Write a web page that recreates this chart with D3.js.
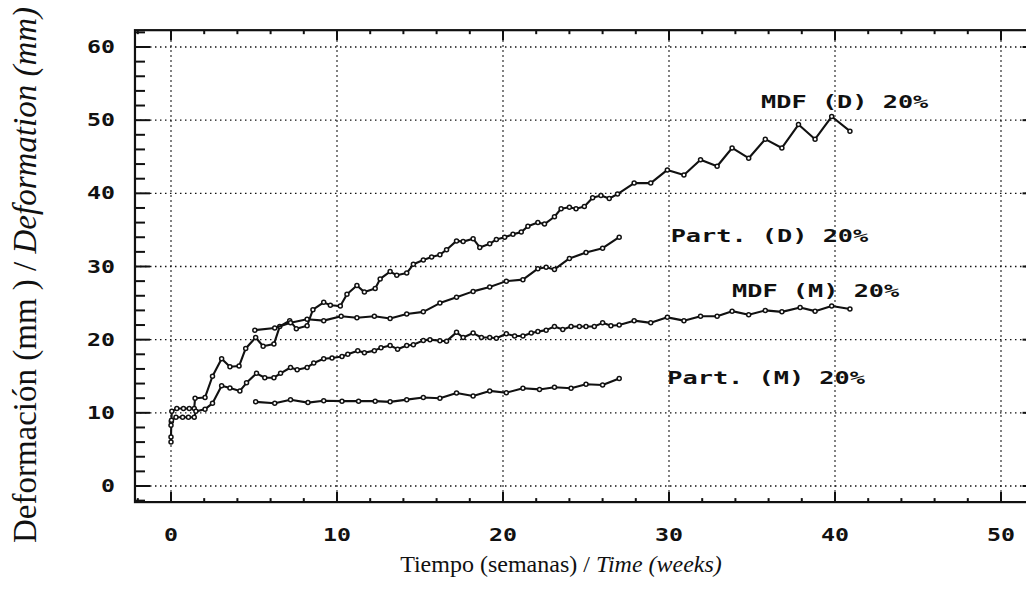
<!DOCTYPE html>
<html>
<head>
<meta charset="utf-8">
<script src="https://cdn.jsdelivr.net/npm/d3@7"></script>
<style>
  body { margin: 0; background: #fff; }
  .grid { stroke: #111; stroke-width: 1.4; stroke-dasharray: 1.5 3.5; fill: none; }
  .tick { stroke: #111; stroke-width: 2; }
  .frame { stroke: #111; stroke-width: 2.2; fill: none; }
  .curve { stroke: #111; stroke-width: 2.1; fill: none; stroke-linejoin: round; }
  .dot { fill: #fff; stroke: #111; stroke-width: 1.5; }
  .mono { font-family: "DejaVu Sans Mono", monospace; font-weight: bold; fill: #111; }
  .serif { font-family: "Liberation Serif", "Times New Roman", serif; fill: #111; }
</style>
</head>
<body>
<div id="chartArea"></div>
<script>
const width = 1026;
const height = 604;

// weeks, deformation (mm)
const mdfD = [
  [0, 6.0], [0, 6.7], [0.02, 8.8], [0.05, 10.2], [0.35, 10.6], [0.75, 10.6], [1.1, 10.6], [1.4, 10.6],
  [1.45, 12.0], [2.05, 12.1], [2.5, 15.0], [3.05, 17.4], [3.55, 16.3], [4.1, 16.4], [4.5, 18.8],
  [5.1, 20.3], [5.55, 19.1], [6.2, 19.4], [6.55, 21.8], [7.15, 22.6], [7.55, 21.5], [8.2, 21.9],
  [8.55, 24.1], [9.2, 25.1], [9.6, 24.7], [10.2, 24.6], [10.6, 26.2], [11.2, 27.4], [11.65, 26.5],
  [12.3, 27.0], [12.6, 28.3], [13.2, 29.3], [13.6, 28.8], [14.2, 29.1], [14.6, 30.3], [15.2, 30.9],
  [15.7, 31.3], [16.2, 31.6], [16.6, 32.3], [17.2, 33.5], [17.6, 33.4], [18.2, 33.8], [18.6, 32.6],
  [19.2, 33.1], [19.6, 33.7], [20.1, 34.0], [20.6, 34.4], [21.1, 34.7], [21.5, 35.5], [22.1, 36.0],
  [22.5, 35.8], [23.1, 36.8], [23.5, 37.9], [24.0, 38.1], [24.4, 37.9], [24.9, 38.2], [25.4, 39.4],
  [25.9, 39.7], [26.4, 39.3], [26.9, 39.9], [27.9, 41.4], [28.9, 41.4], [29.9, 43.2], [30.9, 42.5],
  [31.9, 44.6], [32.9, 43.7], [33.8, 46.2], [34.8, 44.8], [35.8, 47.4], [36.8, 46.2], [37.8, 49.4],
  [38.8, 47.4], [39.8, 50.5], [40.9, 48.5]
];

const partD = [
  [5.05, 21.3], [6.25, 21.6], [7.2, 22.3], [8.2, 22.8], [9.2, 22.6], [10.25, 23.2], [11.2, 23.0],
  [12.25, 23.2], [13.2, 22.9], [14.2, 23.5], [15.2, 23.8], [16.2, 25.0], [17.2, 25.8], [18.2, 26.6],
  [19.2, 27.2], [20.2, 28.0], [21.2, 28.2], [22.1, 29.7], [22.6, 29.9], [23.1, 29.6], [24.0, 31.1],
  [25.0, 31.9], [26.0, 32.5], [27.0, 34.0]
];

const mdfM = [
  [0, 8.3], [0.03, 9.0], [0.3, 9.4], [0.7, 9.4], [1.05, 9.4], [1.4, 9.4], [1.5, 10.2], [2.05, 10.5],
  [2.5, 11.3], [3.05, 13.7], [3.55, 13.4], [4.15, 13.0], [4.55, 14.1], [5.15, 15.4], [5.65, 14.8],
  [6.2, 14.8], [6.6, 15.4], [7.2, 16.2], [7.6, 15.9], [8.2, 16.2], [8.6, 16.8], [9.2, 17.4],
  [9.7, 17.5], [10.3, 17.7], [10.65, 18.0], [11.25, 18.5], [11.65, 18.2], [12.25, 18.5], [12.65, 18.9],
  [13.2, 19.2], [13.65, 18.7], [14.2, 19.2], [14.6, 19.3], [15.2, 19.9], [15.6, 20.0], [16.2, 19.85],
  [16.6, 19.8], [17.2, 21.0], [17.6, 20.3], [18.2, 20.9], [18.7, 20.3], [19.2, 20.3], [19.6, 20.2],
  [20.2, 20.8], [20.7, 20.5], [21.2, 20.5], [21.7, 20.9], [22.1, 21.1], [22.6, 21.3], [23.1, 21.8],
  [23.6, 21.4], [24.1, 21.8], [24.6, 21.8], [25.0, 21.8], [25.5, 21.8], [26.0, 22.3], [26.5, 21.9],
  [27.0, 22.0], [27.9, 22.6], [28.9, 22.3], [29.9, 23.05], [30.9, 22.6], [31.9, 23.2], [32.9, 23.2],
  [33.8, 23.9], [34.8, 23.4], [35.8, 24.0], [36.8, 23.8], [37.9, 24.4], [38.8, 23.9], [39.8, 24.6],
  [40.9, 24.2]
];

const partM = [
  [5.1, 11.5], [6.25, 11.3], [7.2, 11.8], [8.25, 11.4], [9.2, 11.65], [10.3, 11.6], [11.3, 11.6],
  [12.3, 11.6], [13.2, 11.5], [14.2, 11.8], [15.2, 12.1], [16.2, 12.0], [17.2, 12.7], [18.2, 12.3],
  [19.2, 13.0], [20.2, 12.75], [21.2, 13.35], [22.2, 13.2], [23.1, 13.5], [24.1, 13.35], [25.0, 13.9],
  [26.0, 13.8], [27.0, 14.7]
];

const seriesList = [mdfD, partD, mdfM, partM];
const seriesNames = ["MDF (D) 20%", "Part. (D) 20%", "MDF (M) 20%", "Part. (M) 20%"];
// label anchor in data units (weeks, mm)
const labelPos = [[35.55, 51.6], [30.1, 33.3], [33.8, 25.8], [29.9, 14.0]];

const xTicks = [0, 10, 20, 30, 40, 50];
const yTicks = [0, 10, 20, 30, 40, 50, 60];
const xLimits = [-2.17, 52.2];
const yLimits = [-2.2, 62.3];

const x = d3.scaleLinear().domain([0, 50]).range([171, 1001]);
const y = d3.scaleLinear().domain([0, 60]).range([486, 47]);

const svg = d3.select("#chartArea")
    .append("svg")
    .attr("width", width)
    .attr("height", height);

const frameLeft = x(xLimits[0]), frameRight = x(xLimits[1]);
const frameTop = y(yLimits[1]), frameBottom = y(yLimits[0]);

// dotted grid
svg.append("g").selectAll("line")
    .data(xTicks)
    .enter().append("line")
    .attr("class", "grid")
    .attr("x1", d => x(d)).attr("x2", d => x(d))
    .attr("y1", frameTop).attr("y2", frameBottom);

svg.append("g").selectAll("line")
    .data(yTicks)
    .enter().append("line")
    .attr("class", "grid")
    .attr("x1", frameLeft).attr("x2", frameRight)
    .attr("y1", d => y(d)).attr("y2", d => y(d));

// inward ticks on all four sides, minor every 2
const xMinor = d3.range(-2, 53, 2);
const yMinor = d3.range(-2, 63, 2);
const ticks = svg.append("g");

xMinor.forEach(t => {
    const len = t % 10 === 0 ? 10 : 4;
    ticks.append("line").attr("class", "tick")
        .attr("x1", x(t)).attr("x2", x(t)).attr("y1", frameBottom).attr("y2", frameBottom - len);
    ticks.append("line").attr("class", "tick")
        .attr("x1", x(t)).attr("x2", x(t)).attr("y1", frameTop).attr("y2", frameTop + len);
});
yMinor.forEach(v => {
    const len = v % 10 === 0 ? 15 : 10;
    ticks.append("line").attr("class", "tick")
        .attr("x1", frameLeft).attr("x2", frameLeft + len).attr("y1", y(v)).attr("y2", y(v));
    ticks.append("line").attr("class", "tick")
        .attr("x1", frameRight).attr("x2", frameRight - len).attr("y1", y(v)).attr("y2", y(v));
});

svg.append("rect")
    .attr("class", "frame")
    .attr("x", frameLeft).attr("y", frameTop)
    .attr("width", frameRight - frameLeft).attr("height", frameBottom - frameTop);

// tick labels
svg.append("g").selectAll("text")
    .data(xTicks)
    .enter().append("text")
    .attr("class", "mono")
    .attr("x", d => x(d))
    .attr("y", 541)
    .attr("text-anchor", "middle")
    .style("font-size", "17px")
    .attr("textLength", d => String(d).length * 14)
    .attr("lengthAdjust", "spacingAndGlyphs")
    .text(d => d);

svg.append("g").selectAll("text")
    .data(yTicks)
    .enter().append("text")
    .attr("class", "mono")
    .attr("x", 115)
    .attr("y", d => y(d) + 6)
    .attr("text-anchor", "end")
    .style("font-size", "17px")
    .attr("textLength", d => String(d).length * 14)
    .attr("lengthAdjust", "spacingAndGlyphs")
    .text(d => d);

// curves
const line = d3.line().x(d => x(d[0])).y(d => y(d[1]));

seriesList.forEach(s => {
    svg.append("path")
        .datum(s)
        .attr("class", "curve")
        .attr("d", line);
    svg.append("g").selectAll("circle")
        .data(s)
        .enter().append("circle")
        .attr("class", "dot")
        .attr("cx", d => x(d[0]))
        .attr("cy", d => y(d[1]))
        .attr("r", 2);
});

// curve labels
svg.append("g").selectAll("text")
    .data(seriesNames)
    .enter().append("text")
    .attr("class", "mono")
    .attr("x", (d, i) => x(labelPos[i][0]))
    .attr("y", (d, i) => y(labelPos[i][1]))
    .style("font-size", "18px")
    .style("white-space", "pre")
    .attr("textLength", d => d.length * 15.2)
    .attr("lengthAdjust", "spacingAndGlyphs")
    .text(d => d);

// axis titles
const xTitle = svg.append("text")
    .attr("class", "serif")
    .attr("x", 561)
    .attr("y", 572)
    .attr("text-anchor", "middle")
    .style("font-size", "24px");
xTitle.append("tspan").text("Tiempo (semanas) / ");
xTitle.append("tspan").style("font-style", "italic").text("Time (weeks)");

const yTitle = svg.append("text")
    .attr("class", "serif")
    .attr("transform", "translate(36,275) rotate(-90)")
    .attr("text-anchor", "middle")
    .style("font-size", "33px");
yTitle.append("tspan").text("Deformación (mm ) / ");
yTitle.append("tspan").style("font-style", "italic").text("Deformation (mm)");
</script>
</body>
</html>
